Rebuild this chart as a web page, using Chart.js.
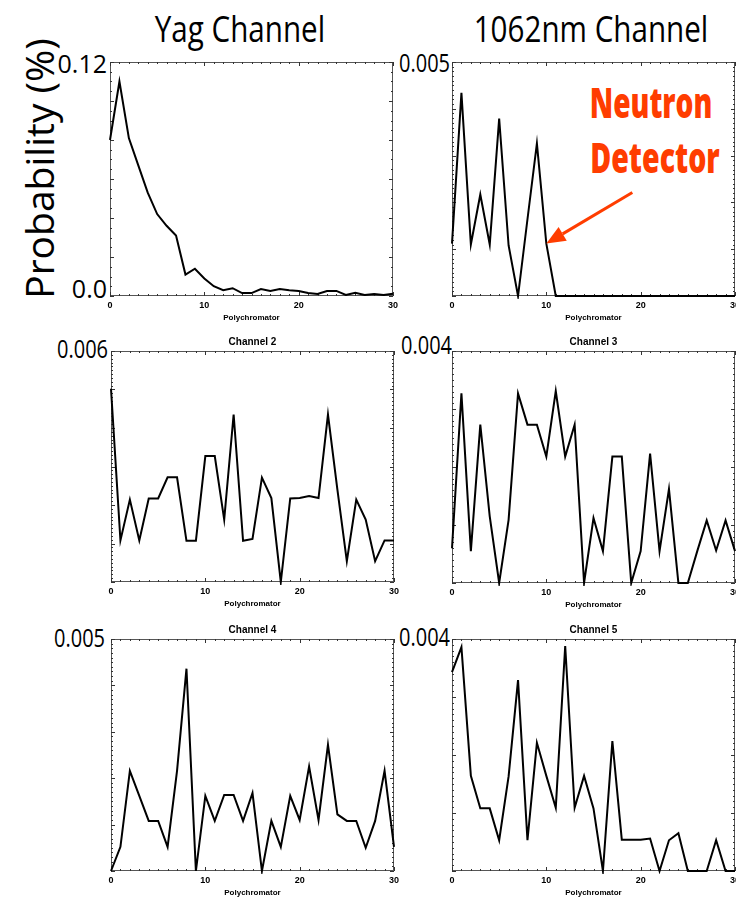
<!DOCTYPE html>
<html>
<head>
<meta charset="utf-8">
<script src="https://cdn.jsdelivr.net/npm/chart.js@4.4.1/dist/chart.umd.min.js"></script>
<style>
  html, body { margin:0; padding:0; background:#fff; width:736px; height:902px; overflow:hidden; position:relative; }
  canvas { position:absolute; }
  .t { position:absolute; white-space:nowrap; line-height:1; font-family:"Open Sans", sans-serif; color:#000; }
</style>
</head>
<body>
<div class="t" style="left:40px;width:400px;top:9px;font-size:37px;text-align:center;transform:scaleX(0.8);">Yag Channel</div>
<div class="t" style="left:391px;width:400px;top:9px;font-size:37px;text-align:center;transform:scaleX(0.8);">1062nm Channel</div>
<div class="t" style="left:-112px;width:300px;top:149px;height:39px;font-size:39px;line-height:39px;text-align:center;transform:rotate(-90deg);">Probability (%)</div>

<div class="t" style="left:-93px;width:200px;top:51px;font-size:25px;text-align:right;transform-origin:right center;">0.12</div>
<div class="t" style="left:-93px;width:200px;top:276px;font-size:25px;text-align:right;transform-origin:right center;">0.0</div>
<div class="t" style="left:250px;width:200px;top:50px;font-size:25px;text-align:right;transform-origin:right center;transform:scaleX(0.8);">0.005</div>
<div class="t" style="left:-92px;width:200px;top:336px;font-size:25px;text-align:right;transform-origin:right center;transform:scaleX(0.8);">0.006</div>
<div class="t" style="left:252px;width:200px;top:332px;font-size:25px;text-align:right;transform-origin:right center;transform:scaleX(0.8);">0.004</div>
<div class="t" style="left:-95px;width:200px;top:625px;font-size:25px;text-align:right;transform-origin:right center;transform:scaleX(0.8);">0.005</div>
<div class="t" style="left:250px;width:200px;top:624px;font-size:25px;text-align:right;transform-origin:right center;transform:scaleX(0.8);">0.004</div>

<div class="t" style="left:451px;width:400px;top:81px;font-size:42px;font-weight:800;color:#ff3d00;text-align:center;transform:scaleX(0.67);">Neutron</div>
<div class="t" style="left:455px;width:400px;top:136px;font-size:42px;font-weight:800;color:#ff3d00;text-align:center;transform:scaleX(0.68);">Detector</div>

<canvas id="c1" width="303" height="266" style="left:100px;top:57px;"></canvas>
<canvas id="c2" width="303" height="266" style="left:442px;top:57px;"></canvas>
<canvas id="c3" width="303" height="278" style="left:101px;top:331px;"></canvas>
<canvas id="c4" width="303" height="279" style="left:442px;top:331px;"></canvas>
<canvas id="c5" width="303" height="279" style="left:101px;top:619px;"></canvas>
<canvas id="c6" width="303" height="279" style="left:442px;top:619px;"></canvas>

<script>
// ---- data ----
const polychromator = Array.from({length: 31}, (_, i) => i);
const xTickLabels = ['0', '10', '20', '30'];

const yagChannel = [0.080, 0.110, 0.081, 0.067, 0.053, 0.042, 0.036, 0.031, 0.011, 0.014,
  0.009, 0.005, 0.003, 0.004, 0.0015, 0.0015, 0.0036, 0.0026, 0.0036, 0.003,
  0.0026, 0.0015, 0.001, 0.0026, 0.0026, 0.0005, 0.0017, 0.0005, 0.001, 0.0005, 0.0012];

const nm1062Channel = [0.00112, 0.00434, 0.0011, 0.00217, 0.0011, 0.00379, 0.00108, 0, 0.00164, 0.00326,
  0.00112, 0, 0, 0, 0, 0, 0, 0, 0, 0,
  0, 0, 0, 0, 0, 0, 0, 0, 0, 0, 0];

const channel2 = [0.00502, 0.00108, 0.00214, 0.00108, 0.00217, 0.00217, 0.00272, 0.00272, 0.00107, 0.00107,
  0.00327, 0.00327, 0.00162, 0.00435, 0.00107, 0.00112, 0.00271, 0.00218, 0, 0.00217,
  0.00218, 0.00223, 0.00218, 0.00435, 0.0024, 0.00054, 0.00214, 0.00162, 0.00054, 0.00108, 0.00108];

const channel3 = [0.0006, 0.00327, 0.00055, 0.00273, 0.00115, 0, 0.00109, 0.00327, 0.00273, 0.00273,
  0.00218, 0.00331, 0.00218, 0.00273, 0, 0.00112, 0.00055, 0.00218, 0.00218, 0,
  0.00055, 0.00223, 0.00055, 0.00162, 0, 0, 0.00055, 0.00108, 0.00056, 0.00108, 0.00055];

const channel4 = [0, 0.00052, 0.00216, 0.00162, 0.00108, 0.00108, 0.00052, 0.00216, 0.00436, 0,
  0.00162, 0.00108, 0.00164, 0.00164, 0.00108, 0.00168, 0, 0.00108, 0.00052, 0.00162,
  0.0011, 0.00225, 0.0011, 0.00272, 0.00122, 0.00108, 0.00108, 0.0005, 0.00108, 0.00216, 0.00052];

const channel5 = [0.00343, 0.00386, 0.00164, 0.00108, 0.00108, 0.00053, 0.00163, 0.00329, 0.00053, 0.00221,
  0.00164, 0.00109, 0.00388, 0.00109, 0.00164, 0.00108, 0, 0.00224, 0.00054, 0.00054,
  0.00054, 0.00056, 0, 0.00053, 0.00065, 0, 0, 0, 0.00053, 0, 0];

const yMaxima = [0.12, 0.005, 0.006, 0.004, 0.005, 0.004];
const yMajorSteps = [0.02, 0.001, 0.001, 0.001, 0.001, 0.001];
const panelTitles = ['', '', 'Channel 2', 'Channel 3', 'Channel 4', 'Channel 5'];

// ---- drawing ----
const framePlugin = {
  id: 'idlFrame',
  beforeDatasetsDraw(chart, args, opts) {
    const {ctx, chartArea: a, scales: {x, y}} = chart;
    ctx.save();
    ctx.strokeStyle = '#555';
    ctx.lineWidth = 1;
    ctx.strokeRect(Math.round(a.left) + 0.5, Math.round(a.top) + 0.5,
      Math.round(a.right - a.left) - 1, Math.round(a.bottom - a.top) - 1);
    ctx.strokeStyle = '#333';
    ctx.beginPath();
    for (let i = x.min; i <= x.max; i++) {
      const px = Math.round(x.getPixelForValue(i)) + 0.5;
      const len = i % 10 === 0 ? 4 : 2;
      ctx.moveTo(px, a.bottom); ctx.lineTo(px, a.bottom - len);
      ctx.moveTo(px, a.top); ctx.lineTo(px, a.top + len);
    }
    const minorPer = opts.minorPer;
    const step = opts.major / minorPer;
    const n = Math.round((y.max - y.min) / step);
    for (let j = 0; j <= n; j++) {
      const py = Math.round(y.getPixelForValue(y.min + j * step)) + 0.5;
      const len = j % minorPer === 0 ? 4 : 2;
      ctx.moveTo(a.left, py); ctx.lineTo(a.left + len, py);
      ctx.moveTo(a.right, py); ctx.lineTo(a.right - len, py);
    }
    ctx.stroke();
    ctx.restore();
  }
};

const arrowPlugin = {
  id: 'arrow',
  afterDatasetsDraw(chart, args, opts) {
    if (!opts.show) return;
    const {ctx, scales: {x, y}} = chart;
    const pt = chart.data.datasets[0].data[opts.target];
    const hx = x.getPixelForValue(pt.x);
    const hy = y.getPixelForValue(pt.y);
    const tx = hx + 86, ty = hy - 51;
    const ang = Math.atan2(hy - ty, hx - tx);
    const headLen = 19, headW = 8;
    const bx = hx - headLen * Math.cos(ang), by = hy - headLen * Math.sin(ang);
    ctx.save();
    ctx.strokeStyle = '#ff3d00';
    ctx.fillStyle = '#ff3d00';
    ctx.lineWidth = 3;
    ctx.beginPath();
    ctx.moveTo(tx, ty); ctx.lineTo(bx, by);
    ctx.stroke();
    ctx.beginPath();
    ctx.moveTo(hx, hy);
    ctx.lineTo(bx + headW * Math.sin(ang), by - headW * Math.cos(ang));
    ctx.lineTo(bx - headW * Math.sin(ang), by + headW * Math.cos(ang));
    ctx.closePath();
    ctx.fill();
    ctx.restore();
  }
};

const series = [yagChannel, nm1062Channel, channel2, channel3, channel4, channel5];

series.forEach((vals, k) => {
  const hasTitle = panelTitles[k] !== '';
  new Chart(document.getElementById('c' + (k + 1)), {
    type: 'line',
    data: {
      labels: polychromator,
      datasets: [{
        data: vals.map((v, i) => ({x: polychromator[i], y: v})),
        borderColor: '#000',
        borderWidth: 2,
        pointRadius: 0,
        tension: 0,
        fill: false,
        clip: 3
      }]
    },
    options: {
      responsive: false,
      animation: false,
      devicePixelRatio: 1,
      layout: { padding: { top: 5, left: 10, right: 10, bottom: 0 } },
      plugins: {
        legend: { display: false },
        tooltip: { enabled: false },
        title: {
          display: hasTitle,
          text: panelTitles[k],
          color: '#000',
          font: { family: 'Liberation Sans', size: 10, weight: 'bold', lineHeight: 1.2 },
          padding: { top: 0, bottom: 3 }
        },
        idlFrame: { major: yMajorSteps[k], minorPer: k === 0 ? 4 : 10 },
        arrow: { show: k === 1, target: 10 }
      },
      scales: {
        x: {
          type: 'linear',
          min: 0, max: 30,
          grid: { display: false, drawTicks: false },
          border: { display: false },
          ticks: {
            stepSize: 10,
            padding: 4,
            color: '#000',
            maxRotation: 0,
            font: { family: 'Liberation Sans', size: 9, weight: 'bold' },
            callback: (v) => xTickLabels[v / 10]
          },
          title: {
            display: true,
            text: 'Polychromator',
            color: '#000',
            padding: 0,
            font: { family: 'Liberation Sans', size: 8, weight: 'bold' }
          },
          afterFit: (s) => { s.height = 27; }
        },
        y: {
          type: 'linear',
          display: false,
          min: 0,
          max: yMaxima[k]
        }
      }
    },
    plugins: [framePlugin, arrowPlugin]
  });
});
</script>
</body>
</html>
